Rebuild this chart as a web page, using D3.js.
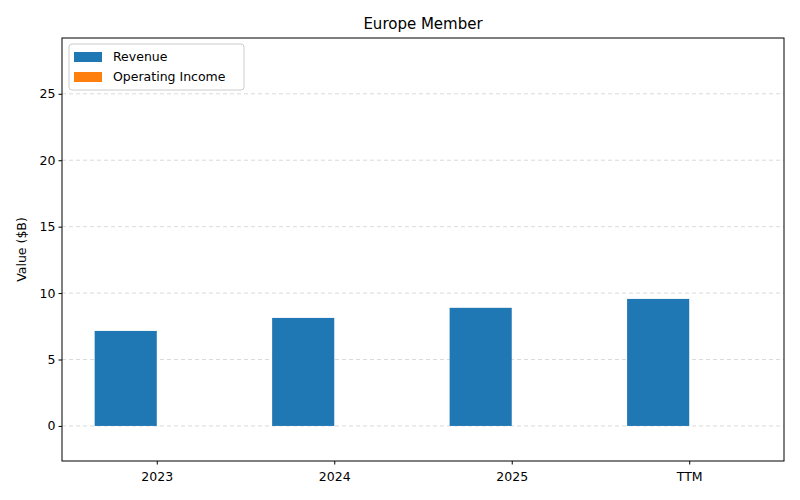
<!DOCTYPE html>
<html><head><meta charset="utf-8">
<script src="https://cdn.jsdelivr.net/npm/d3@7"></script>
<style>body{margin:0;background:#fff}text{font-family:"DejaVu Sans",sans-serif}</style>
</head><body><svg id="c" width="800" height="500"></svg>
<script>
const categories = ["2023","2024","2025","TTM"];
const revenue = [7.15, 8.13, 8.89, 9.56];
const operatingIncome = [0, 0, 0, 0];
const yTicks = [0,5,10,15,20,25];

const svg = d3.select("#c");
const L=62,R=784,T=38,B=461;
const x = d3.scaleLinear().domain([-0.534,3.534]).range([L,R]);
const y = d3.scaleLinear().domain([-2.64,29.2]).range([B,T]);
const w = 0.35;

svg.append("g").selectAll("line").data(yTicks).join("line")
  .attr("x1",L).attr("x2",R).attr("y1",d=>y(d)).attr("y2",d=>y(d))
  .attr("stroke","#b0b0b0").attr("stroke-opacity",0.6).attr("stroke-dasharray","4,3").attr("stroke-width",0.8);

svg.append("g").selectAll("rect").data(revenue).join("rect")
  .attr("x",(d,i)=>x(i-w)).attr("width",x(w)-x(0))
  .attr("y",d=>y(Math.max(d,0))).attr("height",d=>Math.abs(y(d)-y(0))).attr("fill","#1f77b4");
svg.append("g").selectAll("rect").data(operatingIncome).join("rect")
  .attr("x",(d,i)=>x(i)).attr("width",x(w)-x(0))
  .attr("y",d=>y(Math.max(d,0))).attr("height",d=>Math.abs(y(d)-y(0))).attr("fill","#ff7f0e");

const ax = svg.append("g").attr("transform",`translate(0,${B})`)
  .call(d3.axisBottom(x).tickValues([0,1,2,3]).tickFormat(i=>categories[i]).tickSizeOuter(0).tickSize(3.5));
const ay = svg.append("g").attr("transform",`translate(${L},0)`)
  .call(d3.axisLeft(y).tickValues(yTicks).tickSizeOuter(0).tickSize(3.5));
[ax,ay].forEach(a=>{a.select(".domain").remove();a.selectAll("text").attr("font-size",12.5).attr("fill","#000");a.selectAll("line").attr("stroke","#000")});
ax.selectAll("text").attr("dy","1.1em");
svg.append("rect").attr("x",L).attr("y",T).attr("width",R-L).attr("height",B-T).attr("fill","none").attr("stroke","#000").attr("stroke-width",1);

svg.append("text").attr("x",(L+R)/2).attr("y",29).attr("text-anchor","middle").attr("font-size",15).text("Europe Member");
svg.append("text").attr("transform",`translate(26,${(T+B)/2}) rotate(-90)`).attr("text-anchor","middle").attr("font-size",12.5).text("Value ($B)");

const lg = svg.append("g").attr("transform","translate(69,44)");
lg.append("rect").attr("width",175).attr("height",46).attr("rx",3).attr("fill","#fff").attr("fill-opacity",0.8).attr("stroke","#ccc");
[["Revenue","#1f77b4"],["Operating Income","#ff7f0e"]].forEach((d,i)=>{
  lg.append("rect").attr("x",5).attr("y",8+i*20).attr("width",28).attr("height",10).attr("fill",d[1]);
  lg.append("text").attr("x",44).attr("y",17+i*20).attr("font-size",12.5).text(d[0]);
});
</script></body></html>
